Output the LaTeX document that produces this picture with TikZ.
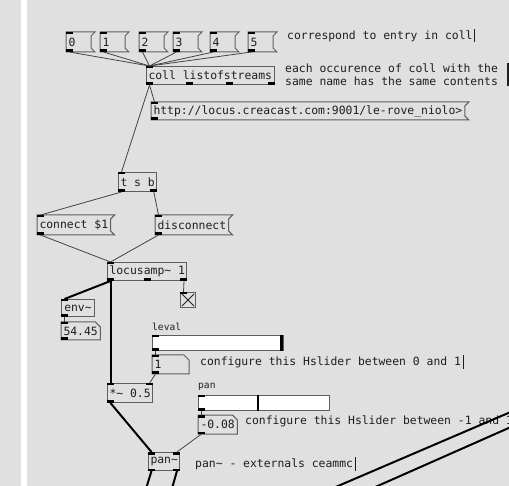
\documentclass[tikz,border=0pt]{standalone}
\usepackage{fontspec}
\usepackage{tikz}
\usetikzlibrary{positioning}
\newfontfamily\pdmono{DejaVu Sans Mono}
\newcommand{\pdfont}{\pdmono\fontsize{11.4}{13}\selectfont}
\newcommand{\pdsmall}{\pdmono\fontsize{9.6}{11}\selectfont}
\definecolor{pdbg}{HTML}{E0E0E0}
\definecolor{pdline}{HTML}{5E5E5E}
\definecolor{pdtext}{HTML}{1E1E1E}
\definecolor{pdwire}{HTML}{444444}
\newcommand{\port}[3]{\fill[black] (#1) rectangle ++(#2,#3);}
\newcommand{\msgflag}[1]{\draw[draw=pdline, line width=1pt] (#1.north west) -- ([xshift=4pt]#1.north east) -- ([yshift=-4pt]#1.north east) -- ([yshift=4pt]#1.south east) -- ([xshift=4pt]#1.south east) -- (#1.south west) -- cycle;}
\newcommand{\numcut}[1]{\draw[draw=pdline, line width=1pt] (#1.north west) -- ([xshift=-5pt]#1.north east) -- ([yshift=-5pt]#1.north east) -- (#1.south east) -- (#1.south west) -- cycle;}

\begin{document}
\begin{tikzpicture}[x=1pt, y=-1pt,
    obj/.style={draw=pdline, line width=1pt, anchor=north west, inner xsep=2pt, inner ysep=0pt, minimum height=18pt, font=\pdfont, text=pdtext},
    msg/.style={obj, draw=none},
    num/.style={obj, draw=none},
    note/.style={anchor=west, inner sep=0pt, font=\pdfont, text=pdtext, align=left},
    sliderlabel/.style={anchor=west, inner sep=0pt, font=\pdsmall, text=pdtext},
    slider/.style={draw=pdline, line width=1pt, fill=white, anchor=north west, inner sep=0pt, minimum height=15pt, minimum width=131pt},
    wire/.style={draw=pdwire, line width=0.8pt},
    sig/.style={draw=black, line width=2pt}
  ]
    \fill[pdbg] (0,0) rectangle (509,486);
    \fill[white] (21,0) rectangle (27,486);
    \useasboundingbox (0,0) rectangle (509,486);

    \node[msg, text width=20pt, minimum height=19pt] (m0) at (66,32) {0};
    \node[msg, text width=20pt, minimum height=19pt] (m1) at (100,32) {1};
    \node[msg, text width=20pt, minimum height=19pt] (m2) at (139,32) {2};
    \node[msg, text width=20pt, minimum height=19pt] (m3) at (173,32) {3};
    \node[msg, text width=20pt, minimum height=19pt] (m4) at (210,32) {4};
    \node[msg, text width=20pt, minimum height=19pt] (m5) at (248,32) {5};
    \node[note] (corr) at (287,36) {correspond to entry in coll};
    \node[obj] (coll) at (146,66) {coll listofstreams};
    \node[note] (samename) at (285,74.5) {each occurence of coll with the\\same name has the same contents};
    \node[msg, minimum height=17pt] (url) at (151,102) {http://locus.creacast.com:9001/le-rove\_niolo>};
    \node[obj, minimum height=19pt] (tsb) at (118,172) {t s b};
    \node[msg, minimum height=19pt] (connect) at (37,215) {connect \$1};
    \node[msg, minimum height=19pt] (disconnect) at (155,215) {disconnect};
    \node[obj] (locusamp) at (107,262) {locusamp\textasciitilde{} 1};
    \node[obj, minimum width=15pt, minimum height=15pt, inner sep=0pt] (tgl) at (180,292) {};
    \node[obj, minimum width=33pt, minimum height=17pt] (env) at (61,299) {env\textasciitilde};
    \node[num, minimum height=17pt] (envnum) at (61,322) {54.45};
    \node[sliderlabel] (levallabel) at (152,327) {leval};
    \node[slider] (levalsl) at (152,335) {};
    \node[num, text width=32pt] (levalnum) at (152,355) {1};
    \node[note] (conf1) at (200,362) {configure this Hslider between 0 and 1};
    \node[obj, minimum height=19pt] (mul) at (107,383) {*\textasciitilde{} 0.5};
    \node[sliderlabel] (panlabel) at (198,387) {pan};
    \node[slider] (pansl) at (198,395) {};
    \node[num] (pannum) at (198,415) {-0.08};
    \node[note] (conf2) at (245,421) {configure this Hslider between -1 and 1};
    \node[obj] (pan) at (148,452) {pan\textasciitilde};
    \node[note] (pannote) at (195,464) {pan\textasciitilde{} - externals ceammc};

    \foreach \n in {m0,m1,m2,m3,m4,m5,url,connect,disconnect} {\msgflag{\n}}
    \foreach \n in {envnum,levalnum,pannum} {\numcut{\n}}

    \draw[line width=3pt] ([xshift=-3pt]levalsl.north east) -- ([xshift=-3pt]levalsl.south east);
    \draw[line width=2.5pt] ([xshift=60pt]pansl.north west) -- ([xshift=60pt]pansl.south west);
    \draw[pdtext, line width=0.8pt] ([shift={(2pt,-2pt)}]tgl.north west) -- ([shift={(-2pt,2pt)}]tgl.south east);
    \draw[pdtext, line width=0.8pt] ([shift={(-2pt,-2pt)}]tgl.north east) -- ([shift={(2pt,2pt)}]tgl.south west);

    \draw[pdtext, line width=0.7pt] ([xshift=2pt,yshift=6.5pt]corr.east) -- ([xshift=2pt,yshift=-6.5pt]corr.east);
    \draw[pdtext, line width=0.7pt] ([xshift=2pt,yshift=7pt]conf1.east) -- ([xshift=2pt,yshift=-7pt]conf1.east);
    \draw[pdtext, line width=0.7pt] ([xshift=2pt,yshift=7pt]pannote.east) -- ([xshift=2pt,yshift=-7pt]pannote.east);
    \draw[pdtext, line width=2pt] ([xshift=10pt,yshift=11pt]samename.east) -- ([xshift=10pt,yshift=-12pt]samename.east);

    \foreach \n in {m0,m1,m2,m3,m4,m5,coll,url,tsb,connect,disconnect,locusamp,tgl,env,envnum,levalsl,levalnum,mul,pansl,pannum,pan} {\port{\n.north west}{7}{2.5}}
    \foreach \n in {m0,m1,m2,m3,m4,m5,coll,url,tsb,connect,disconnect,locusamp,env,envnum,levalsl,levalnum,mul,pansl,pannum,pan} {\port{\n.south west}{7}{-2.5}}
    \foreach \n in {mul,pan} {\port{\n.north east}{-7}{2.5}}
    \foreach \n in {coll,tsb,locusamp,pan} {\port{\n.south east}{-7}{-2.5}}
    \port{[xshift=40pt]coll.south west}{7}{-2.5}
    \port{[xshift=80pt]coll.south west}{7}{-2.5}
    \port{[xshift=36.5pt]locusamp.south west}{7}{-2.5}

    \foreach \n in {m0,m1,m2,m3,m4,m5} {\draw[wire] ([xshift=3.5pt]\n.south west) -- ([xshift=3.5pt]coll.north west);}
    \draw[wire] ([xshift=3.5pt]coll.south west) -- ([xshift=3.5pt]url.north west);
    \draw[wire] ([xshift=3.5pt]coll.south west) -- ([xshift=3.5pt]tsb.north west);
    \draw[wire] ([xshift=3.5pt]tsb.south west) -- ([xshift=3.5pt]connect.north west);
    \draw[wire] ([xshift=-3.5pt]tsb.south east) -- ([xshift=3.5pt]disconnect.north west);
    \draw[wire] ([xshift=3.5pt]connect.south west) -- ([xshift=3.5pt]locusamp.north west);
    \draw[wire] ([xshift=3.5pt]disconnect.south west) -- ([xshift=3.5pt]locusamp.north west);
    \draw[sig] ([xshift=3.5pt]locusamp.south west) -- ([xshift=3.5pt]env.north west);
    \draw[sig] ([xshift=3.5pt]locusamp.south west) -- ([xshift=3.5pt]mul.north west);
    \draw[wire] ([xshift=-3.5pt]locusamp.south east) -- ([xshift=3.5pt]tgl.north west);
    \draw[wire] ([xshift=3.5pt]env.south west) -- ([xshift=3.5pt]envnum.north west);
    \draw[wire] ([xshift=3.5pt]levalsl.south west) -- ([xshift=3.5pt]levalnum.north west);
    \draw[wire] ([xshift=3.5pt]levalnum.south west) -- ([xshift=-3.5pt]mul.north east);
    \draw[sig] ([xshift=3.5pt]mul.south west) -- ([xshift=3.5pt]pan.north west);
    \draw[wire] ([xshift=3.5pt]pansl.south west) -- ([xshift=3.5pt]pannum.north west);
    \draw[wire] ([xshift=3.5pt]pannum.south west) -- ([xshift=-3.5pt]pan.north east);

    \coordinate (outl) at (145,492);
    \coordinate (outr) at (171,492);
    \coordinate (farA1) at (324,492);
    \coordinate (farA2) at (520,408);
    \coordinate (farB1) at (364,492);
    \coordinate (farB2) at (520,423);
    \draw[sig] ([xshift=3.5pt]pan.south west) -- (outl);
    \draw[sig] ([xshift=-3.5pt]pan.south east) -- (outr);
    \draw[sig] (farA1) -- (farA2);
    \draw[sig] (farB1) -- (farB2);
  \end{tikzpicture}
\end{document}
